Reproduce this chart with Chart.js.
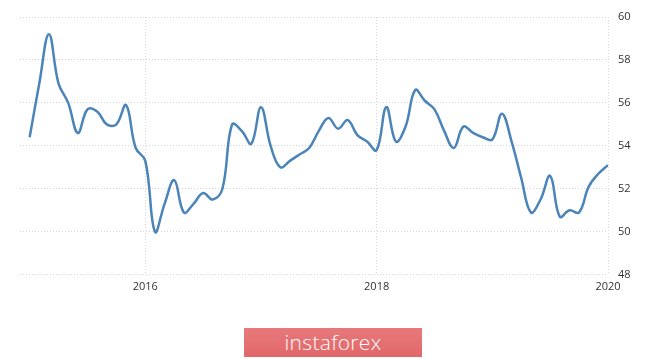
<!DOCTYPE html>
<html>
<head>
<meta charset="utf-8">
<script src="https://cdn.jsdelivr.net/npm/chart.js@4/dist/chart.umd.min.js"></script>
<style>
html,body{margin:0;padding:0;background:#fff;}
#wrap{position:relative;width:665px;height:359px;}
#c{position:absolute;left:0;top:0;}
#wm{position:absolute;left:244px;top:328px;width:178px;height:29px;background:linear-gradient(#e7797b,#e26769);color:#fff;font-family:"Open Sans",sans-serif;font-size:21px;line-height:28px;text-align:center;letter-spacing:0.3px;font-weight:300;}
</style>
</head>
<body>
<div id="wrap">
<canvas id="c" width="665" height="359"></canvas>
<div id="wm">instaforex</div>
</div>
<script>
const months = [];
for (let y = 2015; y <= 2020; y++) {
  for (let m = 1; m <= 12; m++) {
    if (y === 2020 && m > 1) break;
    months.push(y + '-' + String(m).padStart(2, '0'));
  }
}
const values = [
  54.4, 56.9, 59.2, 56.9, 56.0, 54.6, 55.7, 55.6, 55.0, 55.0, 55.9, 53.9,
  53.3, 50.0, 51.3, 52.4, 50.9, 51.3, 51.8, 51.5, 52.0, 55.0, 54.7, 54.1,
  55.8, 54.0, 53.0, 53.3, 53.6, 53.9, 54.7, 55.3, 54.8, 55.2, 54.5, 54.2,
  53.8, 55.8, 54.2, 54.9, 56.6, 56.1, 55.7, 54.7, 53.9, 54.9, 54.6, 54.4,
  54.3, 55.5, 54.2, 52.5, 50.9, 51.5, 52.6, 50.7, 51.0, 50.9, 52.1, 52.7,
  53.1
];
const xTickLabels = ['2016', '2018', '2020'];
const yTicks = [48, 50, 52, 54, 56, 58, 60];

const xTickIdx = xTickLabels.map(y => months.indexOf(y + '-01'));
const points = values.map((v, i) => ({x: i, y: v}));

new Chart(document.getElementById('c'), {
  type: 'line',
  data: {
    datasets: [{
      data: points,
      borderColor: '#4a84b9',
      borderWidth: 2.5,
      pointRadius: 0,
      tension: 0.4,
      fill: false
    }]
  },
  options: {
    responsive: false,
    animation: false,
    events: [],
    layout: {padding: {left: 20, top: 17, right: 0, bottom: 0}},
    plugins: {legend: {display: false}, tooltip: {enabled: false}},
    scales: {
      x: {
        type: 'linear',
        min: -1,
        max: months.length - 1,
        afterBuildTicks: s => { s.ticks = xTickIdx.map(v => ({value: v})); },
        afterFit: s => { s.height = 84.3; },
        ticks: {
          callback: (v) => { const k = xTickIdx.indexOf(v); return k >= 0 ? xTickLabels[k] : ''; },
          color: '#333',
          font: {family: '"Open Sans", sans-serif', size: 11},
          padding: 6,
          maxRotation: 0
        },
        grid: {color: '#d6d6d6', lineWidth: 1, drawTicks: false, tickBorderDash: [1, 2]},
        border: {display: false, dash: [1, 2]}
      },
      y: {
        position: 'right',
        min: 48,
        max: 60,
        afterBuildTicks: s => { s.ticks = yTicks.map(v => ({value: v})); },
        afterFit: s => { s.width = 57; },
        ticks: {
          color: '#333',
          font: {family: '"Open Sans", sans-serif', size: 11},
          padding: 10
        },
        grid: {color: '#d6d6d6', lineWidth: 1, drawTicks: false},
        border: {display: false, dash: [1, 2]}
      }
    }
  },
  plugins: [{
    id: 'dashGrid',
    beforeDraw(chart) {
      ['x', 'y'].forEach(k => {
        const sc = chart.scales[k];
        sc.options.border.dash = [1, 2];
      });
    }
  }]
});
</script>
</body>
</html>
